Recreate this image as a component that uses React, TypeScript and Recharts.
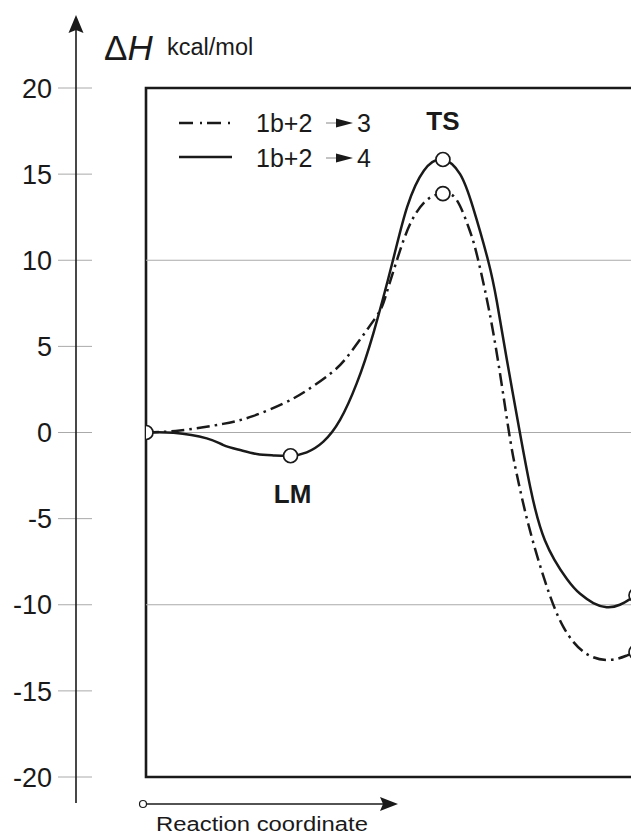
import React from "react";
import {
  ComposedChart,
  Line,
  Scatter,
  XAxis,
  YAxis,
  ReferenceLine,
  ReferenceArea,
} from "recharts";

// Reaction coordinate (arbitrary units, 0..100) and enthalpy (kcal/mol)
const solidX = [0, 5.6, 12.4, 15.8, 19.2, 22.6, 26.0, 29.5, 32.8, 36.2, 39.6, 43.0, 46.4, 50.4, 53.3, 56.7, 60.6, 64.1, 66.7, 69.8, 71.6, 73.6, 76.3, 78.4, 81.4, 85.9, 88.6, 91.3, 94.0, 96.7, 100];
const solidY = [0, -0.02, -0.34, -0.73, -1.02, -1.25, -1.33, -1.35, -1.15, -0.53, 0.73, 2.85, 5.76, 10.0, 13.1, 15.2, 15.85, 15.0, 13.1, 10.0, 7.6, 4.3, 0, -3.15, -6.25, -8.5, -9.36, -9.9, -10.14, -10.0, -9.45];

const dashX = [0, 6.9, 15.7, 21.8, 28.0, 32.8, 37.6, 41.0, 45.0, 47.8, 49.1, 51.2, 53.9, 57.3, 60.6, 63.4, 66.1, 67.8, 70.9, 73.9, 75.65, 78.0, 81.4, 85.2, 89.9, 94.7, 98.1, 100];
const dashY = [0, 0.12, 0.5, 0.95, 1.68, 2.44, 3.41, 4.37, 5.92, 7.1, 8.1, 10.0, 12.1, 13.5, 13.87, 13.5, 11.7, 10.0, 5.75, 0.34, -2.4, -5.3, -8.6, -11.3, -12.85, -13.2, -12.95, -12.75];

const markerX = [0, 29.5, 60.6, 60.6, 100, 100];
const markerY = [0, -1.35, 15.85, 13.87, -9.45, -12.75];
const markerLabel = ["", "LM", "TS", "", "", ""];

const yTicks = [-20, -15, -10, -5, 0, 5, 10, 15, 20];
const gridValues = [10, 0, -10];

const legendItems = ["1b+2", "1b+2"];
const legendProducts = ["3", "4"];

const FONT = "'Liberation Sans', Arial, Helvetica, sans-serif";
const INK = "#1a1a1a";

const solidData = solidX.map((x, i) => ({ x, y: solidY[i] }));
const dashData = dashX.map((x, i) => ({ x, y: dashY[i] }));
const markerData = markerX.map((x, i) => ({ x, y: markerY[i], label: markerLabel[i] }));

const YTick = (props: any) => {
  const { y, payload } = props;
  return (
    <g>
      <line x1={58} x2={92} y1={y} y2={y} stroke="#aaaaaa" strokeWidth={1} />
      <text
        x={52}
        y={y}
        dy="0.36em"
        textAnchor="end"
        fontSize={27}
        fontFamily={FONT}
        fill={INK}
      >
        {payload.value}
      </text>
    </g>
  );
};

const MarkerShape = (props: any) => {
  const { cx, cy, payload } = props;
  const lbl = payload?.label;
  return (
    <g>
      <circle cx={cx} cy={cy} r={7} fill="#ffffff" stroke={INK} strokeWidth={1.7} />
      {lbl === "LM" && (
        <text x={cx + 2} y={cy + 47} textAnchor="middle" fontSize={26} fontWeight="bold" fontFamily={FONT} fill={INK}>
          LM
        </text>
      )}
      {lbl === "TS" && (
        <text x={cx} y={cy - 29} textAnchor="middle" fontSize={26} fontWeight="bold" fontFamily={FONT} fill={INK}>
          TS
        </text>
      )}
    </g>
  );
};

const Overlay = () => (
  <svg
    width={631}
    height={836}
    style={{ position: "absolute", left: 0, top: 0, pointerEvents: "none" }}
  >
    {/* Y axis arrow */}
    <line x1={76} x2={76} y1={30} y2={803} stroke={INK} strokeWidth={1.6} />
    <polygon points="76,15 68.5,33 76,30 83.5,33" fill={INK} />
    {/* Title */}
    <text x={104} y={60} fontSize={35} fontFamily={FONT} fill={INK}>
      Δ<tspan fontStyle="italic">H</tspan>
    </text>
    <text x={167} y={55} fontSize={23.5} fontFamily={FONT} fill={INK}>
      kcal/mol
    </text>
    {/* Legend */}
    <line x1={179} x2={232} y1={123} y2={123} stroke={INK} strokeWidth={2.5} strokeDasharray="14 7 2 5" />
    <line x1={179} x2={232} y1={157} y2={157} stroke={INK} strokeWidth={2.5} />
    {legendItems.map((t, i) => {
      const cy = 123 + i * 35;
      return (
        <g key={i}>
          <text x={256} y={cy + 9} fontSize={25} fontFamily={FONT} fill={INK}>
            {t}
          </text>
          <line x1={326} x2={338} y1={cy} y2={cy} stroke="#888888" strokeWidth={1} />
          <polygon points={`${353},${cy} ${336},${cy - 4.5} ${336},${cy + 4.5}`} fill={INK} />
          <text x={357} y={cy + 9} fontSize={25} fontFamily={FONT} fill={INK}>
            {legendProducts[i]}
          </text>
        </g>
      );
    })}
    {/* X axis arrow */}
    <circle cx={143} cy={804} r={3.5} fill="#ffffff" stroke={INK} strokeWidth={1.2} />
    <line x1={146.5} x2={384} y1={804} y2={804} stroke={INK} strokeWidth={1.6} />
    <polygon points="398,804 380,797 383,804 380,811" fill={INK} />
    <text x={156} y={831} fontSize={20} fontFamily={FONT} fill={INK} textLength={212} lengthAdjust="spacingAndGlyphs">
      Reaction coordinate
    </text>
  </svg>
);

export default function App() {
  return (
    <div
      style={{
        position: "absolute",
        left: 0,
        top: 0,
        width: 631,
        height: 836,
        overflow: "hidden",
        background: "#ffffff",
      }}
    >
      <ComposedChart
        width={700}
        height={836}
        margin={{ top: 88, right: 64, bottom: 59, left: 1 }}
      >
        <XAxis dataKey="x" type="number" domain={[0, 100]} hide allowDataOverflow />
        <YAxis
          type="number"
          domain={[-20, 20]}
          ticks={yTicks}
          width={145}
          axisLine={false}
          tickLine={false}
          tick={<YTick />}
          interval={0}
        />
        {gridValues.map((v) => (
          <ReferenceLine key={v} y={v} stroke="#aaaaaa" strokeWidth={1} ifOverflow="visible" />
        ))}
        <ReferenceArea
          x1={0}
          x2={100}
          y1={-20}
          y2={20}
          fill="none"
          fillOpacity={0}
          stroke={INK}
          strokeWidth={2.6}
          strokeOpacity={1}
          ifOverflow="visible"
        />
        <Line
          data={dashData}
          dataKey="y"
          type="natural"
          stroke={INK}
          strokeWidth={2.5}
          strokeDasharray="13 5 2.5 5"
          dot={false}
          activeDot={false}
          isAnimationActive={false}
        />
        <Line
          data={solidData}
          dataKey="y"
          type="natural"
          stroke={INK}
          strokeWidth={2.5}
          dot={false}
          activeDot={false}
          isAnimationActive={false}
        />
        <Scatter
          data={markerData}
          dataKey="y"
          shape={<MarkerShape />}
          isAnimationActive={false}
        />
      </ComposedChart>
      <Overlay />
    </div>
  );
}
